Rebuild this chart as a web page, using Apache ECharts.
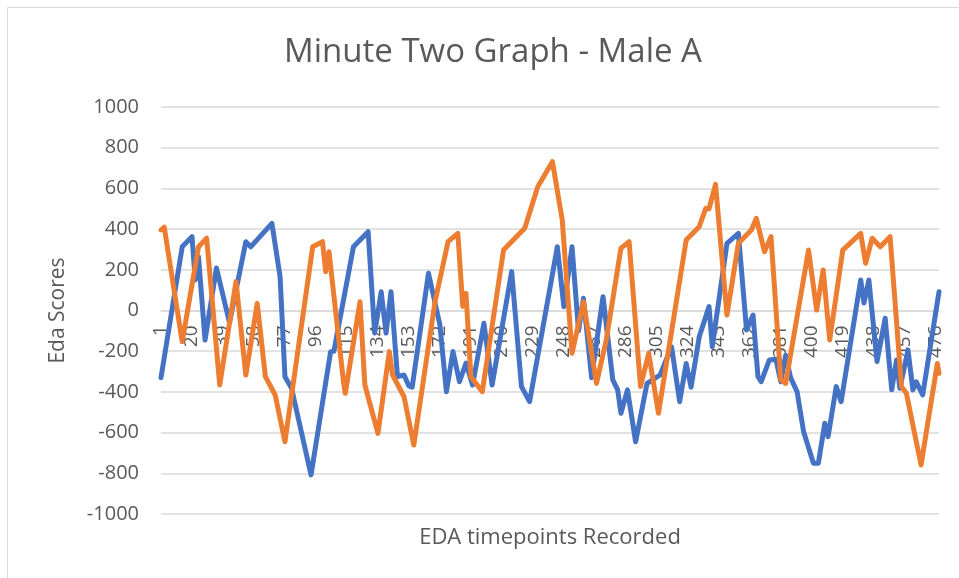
<!DOCTYPE html>
<html>
<head>
<meta charset="utf-8">
<title>Minute Two Graph - Male A</title>
<script src="https://cdn.jsdelivr.net/npm/echarts@6/dist/echarts.min.js"></script>
<style>
  html, body { margin: 0; padding: 0; background: #fff; }
  #chart { width: 959px; height: 578px; }
</style>
</head>
<body>
<div id="chart"></div>
<script>
// Number of recorded timepoints on the category axis
const pointCount = 478;
const timepoints = [];
for (let i = 1; i <= pointCount; i++) timepoints.push(String(i));

// Blue series: turning points (index into timepoints, score)
const blueIdx = [0, 13, 19, 21, 23, 27, 34, 42, 52, 55, 68, 73, 76, 80, 92, 104, 106, 118, 127, 131,
  135, 138, 141, 145, 149, 152, 154, 164, 171, 175, 179, 183, 187, 191, 198, 203, 215, 221, 226, 243,
  247, 252, 256, 259, 264, 271, 277, 280, 282, 286, 291, 298, 306, 313, 318, 322, 325, 330, 336, 338,
  347, 354, 359, 363, 366, 368, 373, 377, 380, 383, 386, 390, 394, 400, 403, 407, 409, 414, 417, 429,
  431, 434, 439, 444, 448, 451, 453, 458, 461, 463, 467, 477];
const blueVal = [-330, 313, 363, 150, 264, -145, 209, -60, 338, 313, 428, 166, -325, -381, -808, -202, -200, 313, 387, -111,
  92, -111, 92, -325, -317, -371, -377, 183, -71, -399, -202, -350, -258, -366, -63, -366, 191, -374, -448, 313,
  19, 313, -100, 60, -330, 68, -341, -390, -505, -390, -645, -358, -317, -178, -448, -260, -377, -129, 19, -178,
  330, 379, -96, -22, -325, -350, -243, -240, -350, -220, -330, -399, -596, -751, -751, -554, -620, -374, -448, 150,
  37, 150, -251, -38, -390, -243, -382, -194, -390, -350, -415, 92];

// Orange series: turning points
const orangeIdx = [0, 2, 13, 23, 28, 36, 46, 52, 59, 64, 70, 76, 93, 99, 101, 103, 112, 113, 122, 125,
  133, 140, 142, 149, 155, 168, 176, 182, 185, 187, 190, 197, 210, 223, 231, 240, 246, 252, 259, 267,
  273, 282, 287, 294, 299, 305, 322, 330, 334, 336, 340, 347, 354, 362, 365, 370, 374, 380, 383, 397,
  402, 406, 410, 418, 429, 432, 436, 441, 447, 454, 457, 466, 476, 477];
const orangeVal = [396, 409, -153, 313, 355, -366, 142, -317, 35, -325, -415, -645, 313, 338, 191, 289, -358, -407, 43, -366,
  -604, -202, -317, -424, -661, 43, 338, 379, 20, 84, -325, -399, 297, 404, 608, 731, 445, -210, 43, -358,
  -145, 306, 338, -374, -210, -505, 346, 412, 502, 500, 620, -22, 330, 396, 453, 289, 363, -341, -358, 297,
  2, 199, -145, 297, 379, 232, 355, 313, 363, -374, -407, -759, -260, -309];

const yTicks = { min: -1000, max: 1000, step: 200 };

const bluePoints = blueIdx.map((i, k) => [i, blueVal[k]]);
const orangePoints = orangeIdx.map((i, k) => [i, orangeVal[k]]);

const textColor = "#595959";
const gridColor = "#d9d9d9";
const fontFamily = "'Open Sans', 'Liberation Sans', sans-serif";

const gridTop = 107;
const gridBottom = 64;
const chartHeight = 578;
// the category labels hang from the zero line (half way down the plot)
const zeroOffset = -(chartHeight - gridTop - gridBottom) / 2;

const myChart = echarts.init(document.getElementById("chart"), null, { renderer: "canvas" });

const option = {
  animation: false,
  backgroundColor: "#ffffff",
  title: [
    {
      text: "Minute Two Graph - Male A",
      left: 493,
      top: 36,
      textAlign: "center",
      padding: 0,
      textStyle: { fontFamily, fontSize: 33, fontWeight: "normal", color: textColor },
    },
    {
      // horizontal axis title sits under the plot, not beside the zero line
      text: "EDA timepoints Recorded",
      left: 550,
      top: 527,
      textAlign: "center",
      padding: 0,
      textStyle: { fontFamily, fontSize: 22, fontWeight: "normal", color: textColor },
    },
  ],
  graphic: [
    {
      type: "rect",
      shape: { x: 7.5, y: 7.5, width: 1000, height: 1000 },
      style: { fill: "none", stroke: gridColor, lineWidth: 1 },
      silent: true,
    },
  ],
  grid: { left: 161, right: 20, top: gridTop, bottom: gridBottom },
  xAxis: {
    type: "category",
    data: timepoints,
    boundaryGap: false,
    offset: zeroOffset,
    axisLine: { show: true, onZero: false, lineStyle: { color: gridColor, width: 1.5 } },
    axisTick: { show: false },
    axisLabel: {
      interval: 18,
      rotate: 90,
      margin: 15,
      padding: [6, 0, 0, 0],
      color: textColor,
      fontFamily,
      fontSize: 19,
    },
    splitLine: { show: false },
  },
  yAxis: {
    type: "value",
    min: yTicks.min,
    max: yTicks.max,
    interval: yTicks.step,
    name: "Eda Scores",
    nameLocation: "middle",
    nameGap: 92,
    nameRotate: 90,
    nameTextStyle: { fontFamily, fontSize: 21, color: textColor },
    axisLine: { show: false },
    axisTick: { show: false },
    axisLabel: {
      color: textColor,
      fontFamily,
      fontSize: 20,
      margin: 22,
      formatter: (v) => String(v),
    },
    splitLine: { lineStyle: { color: gridColor, width: 1.5 } },
  },
  series: [
    {
      name: "Series1",
      type: "line",
      data: bluePoints,
      showSymbol: false,
      lineStyle: { color: "#4472C4", width: 5, join: "round", cap: "round" },
      itemStyle: { color: "#4472C4" },
      z: 2,
    },
    {
      name: "Series2",
      type: "line",
      data: orangePoints,
      showSymbol: false,
      lineStyle: { color: "#ED7D31", width: 5, join: "round", cap: "round" },
      itemStyle: { color: "#ED7D31" },
      z: 3,
    },
  ],
};

myChart.setOption(option);
</script>
</body>
</html>
